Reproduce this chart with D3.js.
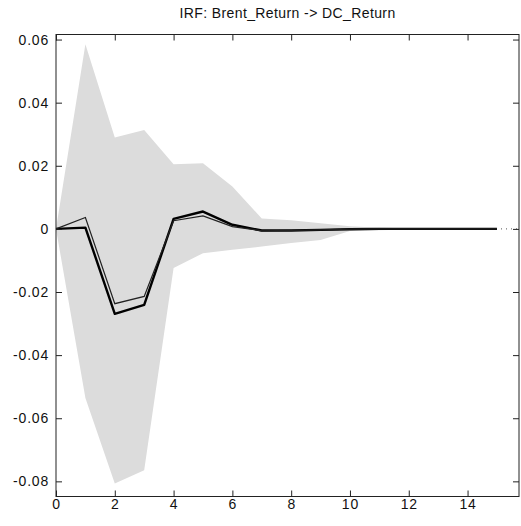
<!DOCTYPE html>
<html>
<head>
<meta charset="utf-8">
<script src="https://cdn.jsdelivr.net/npm/d3@7"></script>
<style>
  body { margin: 0; background: #fff; }
  text { font-family: "Liberation Sans", Arial, Helvetica, sans-serif; fill: #111; }
</style>
</head>
<body>
<svg id="chart"></svg>
<script>
const width = 521;
const height = 526;
const margin = {top: 34.5, right: 2, bottom: 29.5, left: 56};

// impulse response, horizon 0..15
const steps = [0, 1, 2, 3, 4, 5, 6, 7, 8, 9, 10, 11, 12, 13, 14, 15];
const upper = [0, 0.0585, 0.0290, 0.0313, 0.0205, 0.0208, 0.0134, 0.0033, 0.0027, 0.0018, 0.0008, 0.0004, 0.0002, 0.0001, 0.0001, 0.0000];
const lower = [0, -0.0536, -0.0807, -0.0765, -0.0124, -0.0077, -0.0066, -0.0056, -0.0045, -0.0035, -0.0007, -0.0004, -0.0002, -0.0001, -0.0001, 0.0000];
const estimate = [0, 0.0004, -0.0269, -0.0241, 0.0032, 0.0055, 0.0013, -0.0005, -0.0005, -0.0003, -0.0001, 0, 0, 0, 0, 0];
const median = [0, 0.0036, -0.0237, -0.0214, 0.0026, 0.0041, 0.0007, -0.0006, -0.0005, -0.0003, -0.0001, 0, 0, 0, 0, 0];
const xTicks = [0, 2, 4, 6, 8, 10, 12, 14];
const yTicks = [-0.08, -0.06, -0.04, -0.02, 0, 0.02, 0.04, 0.06];

const svg = d3.select('#chart')
    .attr('width', width)
    .attr('height', height);

const x = d3.scaleLinear().domain([0, 15.75]).range([margin.left, width - margin.right]);
const y = d3.scaleLinear().domain([-0.0848, 0.0616]).range([height - margin.bottom, margin.top]);

const rows = steps.map((s, i) => ({step: s, lo: lower[i], hi: upper[i], est: estimate[i], med: median[i]}));

// dotted zero line (sits under the band)
svg.append('line')
    .attr('x1', x(0)).attr('x2', x(15.75))
    .attr('y1', y(0)).attr('y2', y(0))
    .attr('stroke', '#555')
    .attr('stroke-width', 1)
    .attr('stroke-dasharray', '1,4');

svg.append('path')
    .datum(rows)
    .attr('fill', '#dcdcdc')
    .attr('d', d3.area()
        .x(d => x(d.step))
        .y0(d => y(d.lo))
        .y1(d => y(d.hi)));

svg.append('path')
    .datum(rows)
    .attr('fill', 'none')
    .attr('stroke', '#000')
    .attr('stroke-width', 2.4)
    .attr('stroke-linejoin', 'round')
    .attr('d', d3.line().x(d => x(d.step)).y(d => y(d.est)));

svg.append('path')
    .datum(rows)
    .attr('fill', 'none')
    .attr('stroke', '#222')
    .attr('stroke-width', 1.2)
    .attr('d', d3.line().x(d => x(d.step)).y(d => y(d.med)));

// axes, gnuplot style: inner ticks mirrored on all sides
const tick = 6;
const locale = d3.formatLocale({decimal: '.', thousands: ',', grouping: [3], currency: ['', ''], minus: '-'});
const fmt = d => d === 0 ? '0' : locale.format('.2f')(d);

const xBottom = svg.append('g')
    .attr('transform', `translate(0, ${height - margin.bottom})`)
    .call(d3.axisBottom(x).tickValues(xTicks).tickSizeInner(-tick).tickSizeOuter(0).tickPadding(4));
const xTop = svg.append('g')
    .attr('transform', `translate(0, ${margin.top})`)
    .call(d3.axisTop(x).tickValues(xTicks).tickSizeInner(-tick).tickSizeOuter(0).tickFormat(''));
const yLeft = svg.append('g')
    .attr('transform', `translate(${margin.left}, 0)`)
    .call(d3.axisLeft(y).tickValues(yTicks).tickSizeInner(-tick).tickSizeOuter(0).tickPadding(7).tickFormat(fmt));
const yRight = svg.append('g')
    .attr('transform', `translate(${width - margin.right}, 0)`)
    .call(d3.axisRight(y).tickValues(yTicks).tickSizeInner(-tick).tickSizeOuter(0).tickFormat(''));

[xBottom, xTop, yLeft, yRight].forEach(g => {
    g.select('.domain').remove();
    g.selectAll('.tick line').attr('stroke', '#222');
    g.selectAll('text')
        .style('font-family', '"Liberation Sans", Arial, sans-serif')
        .style('font-size', '14px')
        .style('letter-spacing', '0.8px')
        .attr('fill', '#111');
});
xBottom.selectAll('text').attr('dy', '0.6em');

svg.append('rect')
    .attr('x', margin.left)
    .attr('y', margin.top)
    .attr('width', width - margin.right - margin.left)
    .attr('height', height - margin.bottom - margin.top)
    .attr('fill', 'none')
    .attr('stroke', '#222')
    .attr('stroke-width', 1);

svg.append('text')
    .attr('x', (margin.left + width - margin.right) / 2)
    .attr('y', 18)
    .attr('text-anchor', 'middle')
    .style('font-size', '14px')
    .style('letter-spacing', '0.4px')
    .text('IRF: Brent_Return -> DC_Return');
</script>
</body>
</html>
